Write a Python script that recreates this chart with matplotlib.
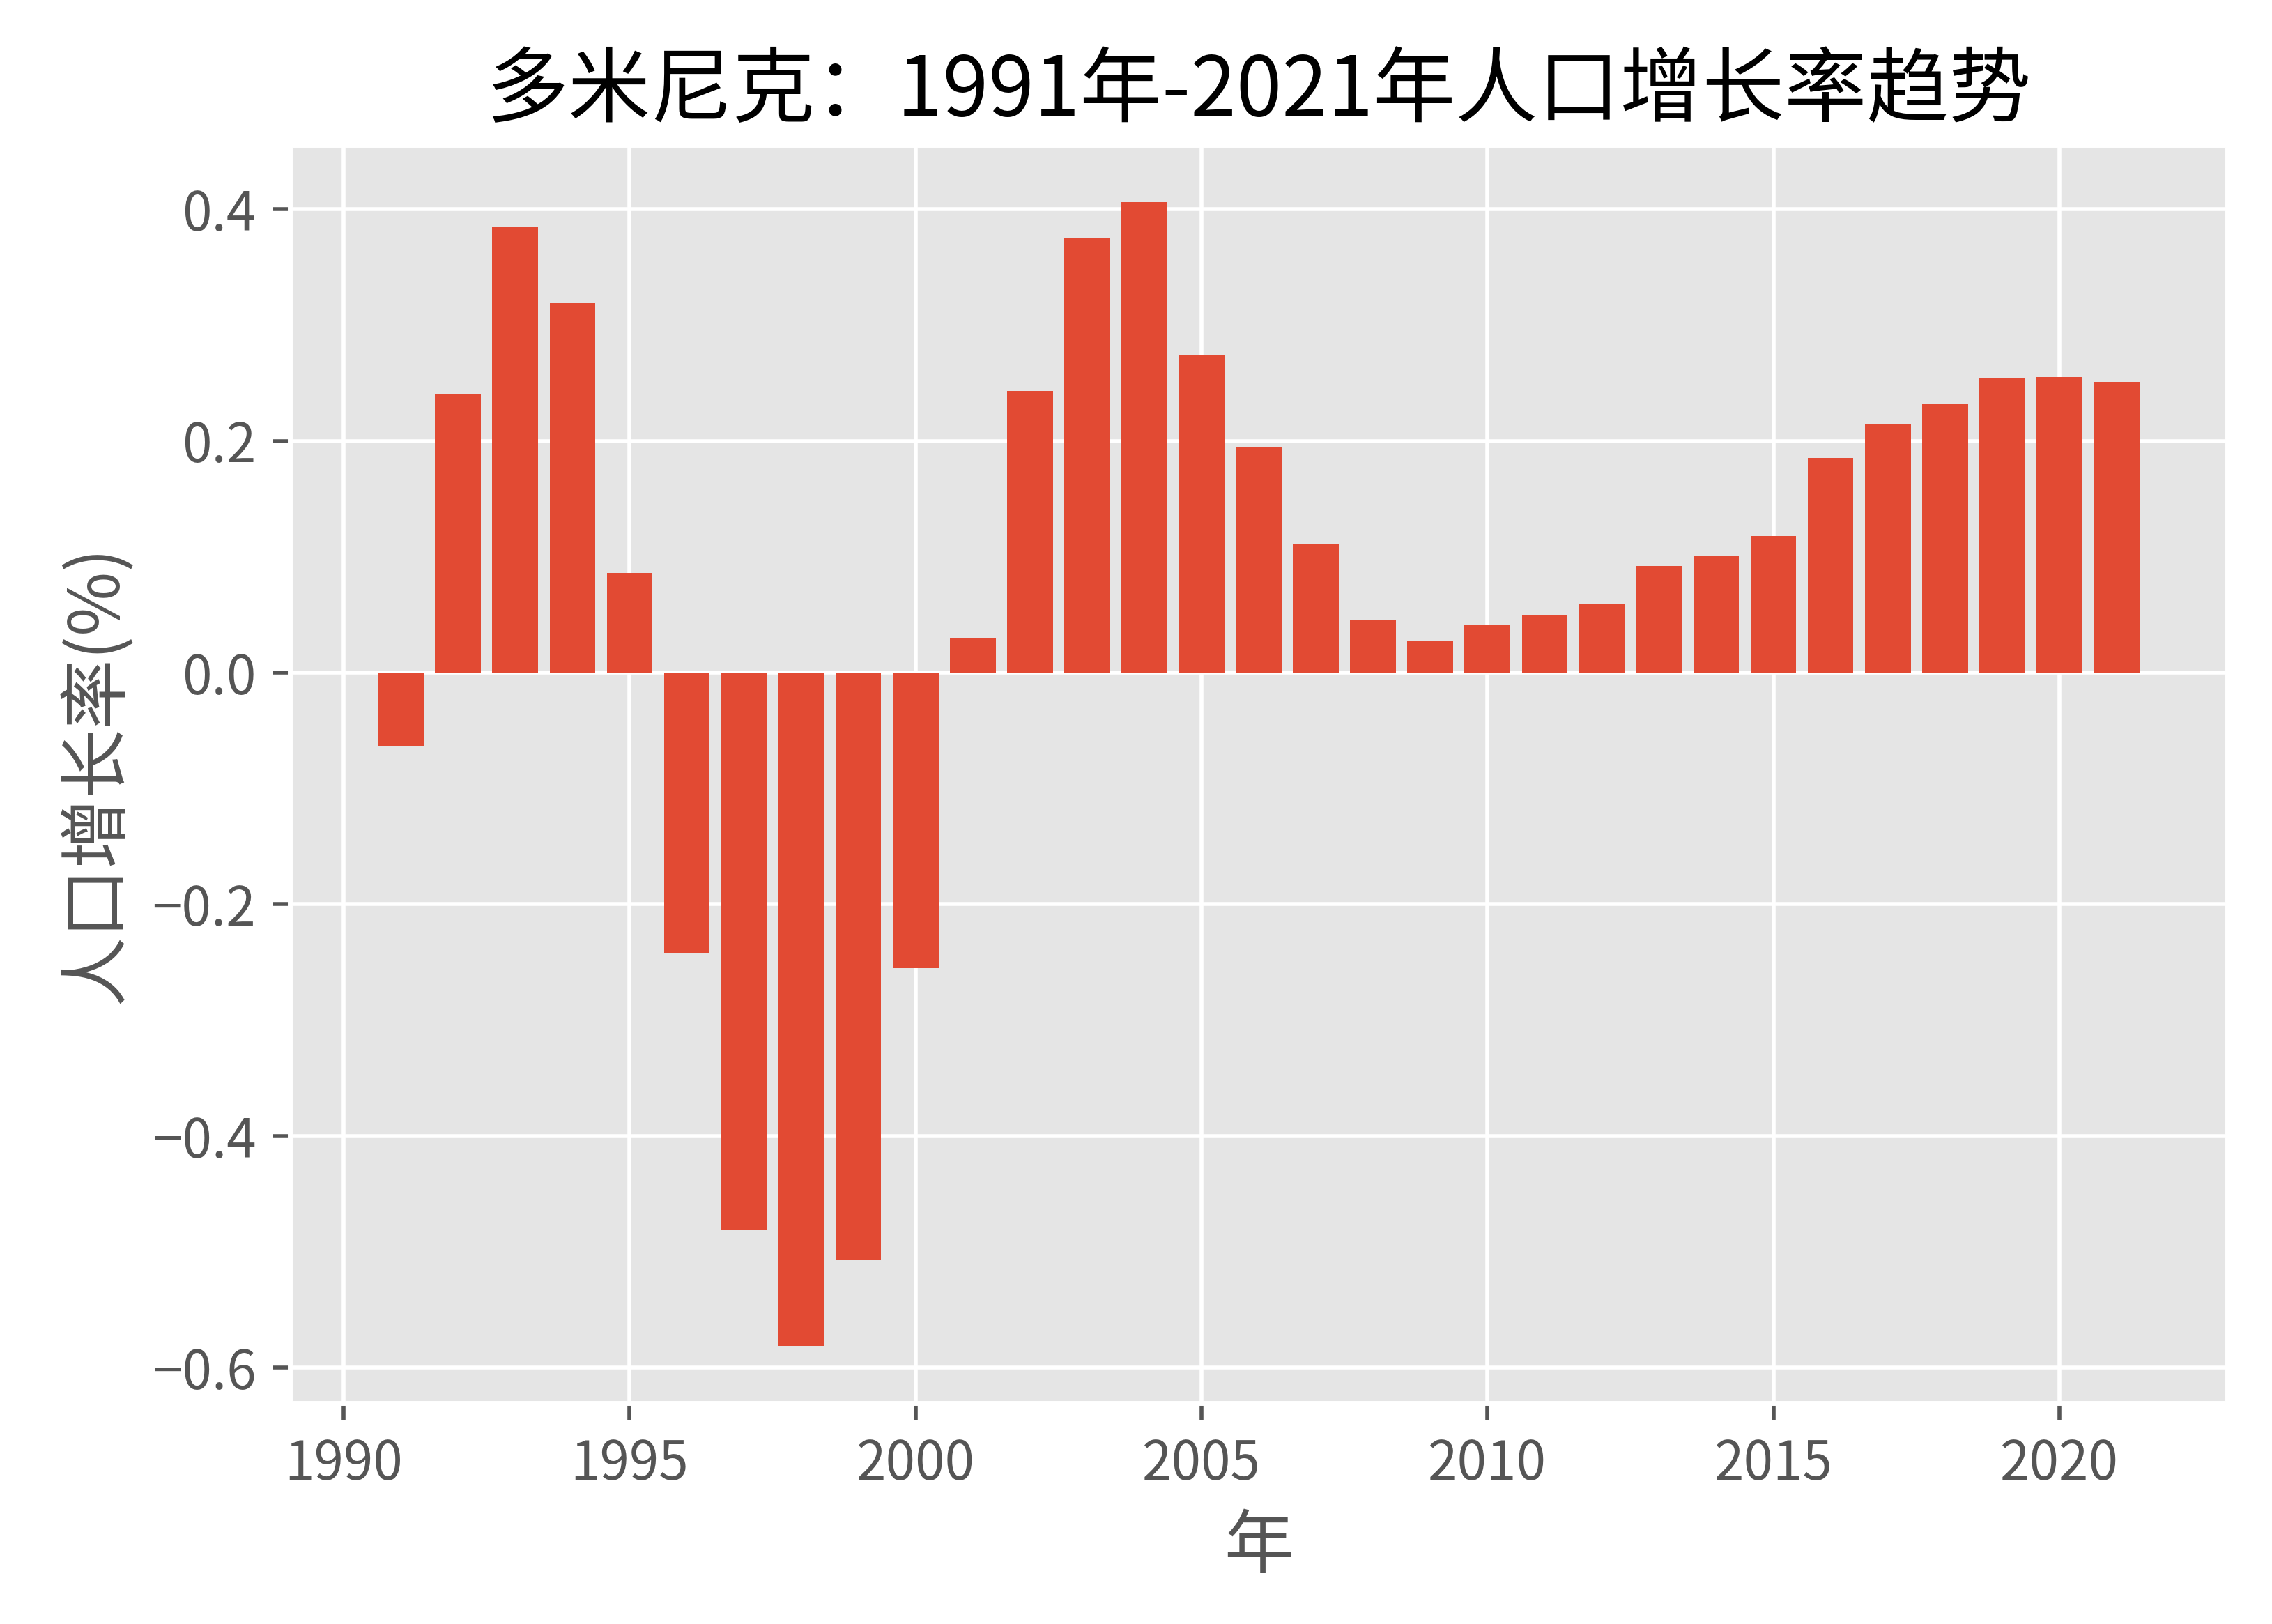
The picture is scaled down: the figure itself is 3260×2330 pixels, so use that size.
import matplotlib
matplotlib.use("Agg")
import matplotlib.pyplot as plt

years = list(range(1991, 2022))
growth = [-0.064, 0.240, 0.385, 0.319, 0.086,
          -0.242, -0.481, -0.581, -0.507, -0.255,
          0.030, 0.243, 0.375, 0.406, 0.274,
          0.195, 0.111, 0.046, 0.027, 0.041,
          0.050, 0.059, 0.092, 0.101, 0.118,
          0.185, 0.214, 0.232, 0.254, 0.255, 0.251]

title = "多米尼克：1991年-2021年人口增长率趋势"
xlabel = "年"
ylabel = "人口增长率(%)"

plt.style.use("ggplot")
plt.rcParams["font.family"] = ["Noto Sans CJK SC", "DejaVu Sans"]
plt.rcParams["axes.unicode_minus"] = True

fig = plt.figure(figsize=(6.52, 4.66), dpi=500)
ax = fig.add_axes([0.1276, 0.1361, 0.8528, 0.7746])
ax.bar(years, growth, color="#E24A33")
ax.set_title(title, fontsize=17, color="black")
ax.set_xlabel(xlabel, fontsize=14.4)
ax.set_ylabel(ylabel, fontsize=14.4)
ax.tick_params(axis="both", labelsize=11)
fig.savefig("out.png", dpi=500)
